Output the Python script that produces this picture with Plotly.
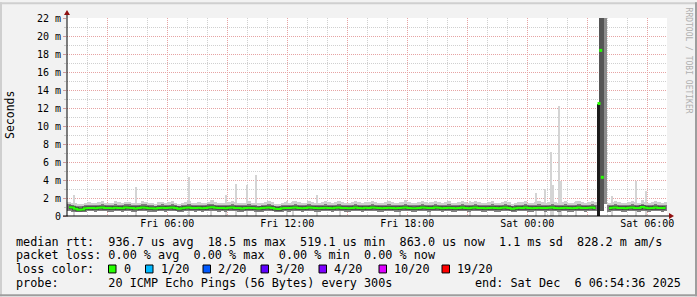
import plotly.graph_objects as go

# ---------------- data ----------------
STEP_H = 1 / 6          # 10-minute steps (hours)
T0 = 1.0                # first step starts Fri 01:00 (hours after Fri 00:00)

median_ms = [
    0.98, 0.95, 0.80, 0.70, 0.72, 0.85, 0.88, 0.90, 0.86, 0.92, 0.95, 0.90, 0.88, 0.85, 0.93, 0.90, 0.86, 0.95,
    0.92, 0.88, 0.84, 0.90, 0.95, 0.92, 0.87, 0.85, 0.82, 0.90, 0.93, 0.88, 0.92, 0.95, 0.90, 0.80, 0.85, 0.92,
    0.95, 0.90, 0.88, 0.92, 0.85, 0.90, 0.94, 0.98, 0.92, 0.88, 0.90, 0.86, 0.92, 0.95, 0.90, 0.88, 0.84, 0.90,
    0.93, 0.90, 0.86, 0.82, 0.88, 0.92, 0.95, 0.90, 0.80, 0.78, 0.85, 0.90, 0.88, 0.92, 0.95, 0.90, 0.86, 0.90,
    0.95, 0.92, 0.88, 0.85, 0.90, 0.93, 0.90, 0.87, 0.92, 0.95, 0.90, 0.88, 0.85, 0.90, 0.94, 0.90, 0.86, 0.92,
    0.90, 0.95, 0.92, 0.88, 0.85, 0.90, 0.93, 0.90, 0.86, 0.88, 0.92, 0.95, 0.90, 0.87, 0.85, 0.90, 0.94, 0.92,
    0.88, 0.90, 0.95, 0.92, 0.86, 0.90, 0.93, 0.88, 0.85, 0.90, 0.94, 0.90, 0.87, 0.92, 0.95, 0.90, 0.88, 0.85,
    0.90, 0.93, 0.88, 0.86, 0.92, 0.95, 0.90, 0.80, 0.85, 0.92, 0.90, 0.94, 0.88, 0.85, 0.90, 0.93, 0.90, 0.88,
    0.92, 0.95, 0.90, 0.86, 0.90, 0.93, 0.88, 0.85, 0.90, 0.94, 0.90, 0.88, 0.92, 0.95, 0.90, None, None, None,
    0.85, 0.92, 0.95, 0.90, 0.88, 0.86, 0.92, 0.95, 0.90, 0.88, 1.00, 0.92, 0.85, 0.90, 0.94, 0.90, 0.88, 0.92,
]
smoke_lo_ms = [
    0.55, 0.50, 0.45, 0.40, 0.42, 0.50, 0.55, 0.52, 0.48, 0.55, 0.58, 0.52, 0.50, 0.48, 0.55, 0.52, 0.50, 0.56,
    0.54, 0.50, 0.48, 0.52, 0.56, 0.54, 0.50, 0.48, 0.45, 0.52, 0.55, 0.50, 0.54, 0.56, 0.52, 0.45, 0.48, 0.54,
    0.56, 0.52, 0.50, 0.54, 0.48, 0.52, 0.55, 0.58, 0.54, 0.50, 0.52, 0.48, 0.54, 0.56, 0.52, 0.50, 0.46, 0.52,
    0.55, 0.52, 0.48, 0.45, 0.50, 0.54, 0.56, 0.52, 0.45, 0.42, 0.48, 0.52, 0.50, 0.54, 0.56, 0.52, 0.48, 0.52,
    0.56, 0.54, 0.50, 0.48, 0.52, 0.55, 0.52, 0.50, 0.54, 0.56, 0.52, 0.50, 0.48, 0.52, 0.55, 0.52, 0.48, 0.54,
    0.52, 0.56, 0.54, 0.50, 0.48, 0.52, 0.55, 0.52, 0.48, 0.50, 0.54, 0.56, 0.52, 0.50, 0.48, 0.52, 0.55, 0.54,
    0.50, 0.52, 0.56, 0.54, 0.48, 0.52, 0.55, 0.50, 0.48, 0.52, 0.55, 0.52, 0.50, 0.54, 0.56, 0.52, 0.50, 0.48,
    0.52, 0.55, 0.50, 0.48, 0.54, 0.56, 0.52, 0.45, 0.48, 0.54, 0.52, 0.55, 0.50, 0.48, 0.52, 0.55, 0.52, 0.50,
    0.54, 0.56, 0.52, 0.48, 0.52, 0.55, 0.50, 0.48, 0.52, 0.55, 0.52, 0.50, 0.54, 0.56, 0.52, None, None, None,
    0.48, 0.54, 0.56, 0.52, 0.50, 0.48, 0.54, 0.56, 0.52, 0.50, 0.58, 0.54, 0.48, 0.52, 0.55, 0.52, 0.50, 0.54,
]
smoke_hi_ms = [
    1.30, 1.25, 1.15, 1.10, 1.12, 1.20, 1.25, 1.22, 1.18, 1.25, 1.30, 1.22, 1.20, 1.18, 1.28, 1.25, 1.20, 1.30,
    1.28, 1.22, 1.18, 1.25, 1.30, 1.28, 1.20, 1.18, 1.15, 1.25, 1.28, 1.22, 1.26, 1.30, 1.25, 1.12, 1.18, 1.26,
    1.30, 1.25, 1.22, 1.26, 1.18, 1.24, 1.28, 1.32, 1.26, 1.22, 1.24, 1.20, 1.26, 1.30, 1.24, 1.22, 1.18, 1.24,
    1.28, 1.24, 1.20, 1.15, 1.22, 1.26, 1.30, 1.24, 1.12, 1.10, 1.18, 1.24, 1.22, 1.26, 1.30, 1.24, 1.20, 1.24,
    1.30, 1.26, 1.22, 1.18, 1.24, 1.28, 1.24, 1.20, 1.26, 1.30, 1.24, 1.22, 1.18, 1.24, 1.28, 1.24, 1.20, 1.26,
    1.24, 1.30, 1.26, 1.22, 1.18, 1.24, 1.28, 1.24, 1.20, 1.22, 1.26, 1.30, 1.24, 1.20, 1.18, 1.24, 1.28, 1.26,
    1.22, 1.24, 1.30, 1.26, 1.20, 1.24, 1.28, 1.22, 1.18, 1.24, 1.28, 1.24, 1.20, 1.26, 1.30, 1.24, 1.22, 1.18,
    1.24, 1.28, 1.22, 1.20, 1.26, 1.30, 1.24, 1.12, 1.18, 1.26, 1.24, 1.28, 1.22, 1.18, 1.24, 1.28, 1.24, 1.22,
    1.26, 1.30, 1.24, 1.20, 1.24, 1.28, 1.22, 1.18, 1.24, 1.28, 1.24, 1.22, 1.26, 1.30, 1.24, None, None, None,
    1.18, 1.26, 1.30, 1.24, 1.22, 1.20, 1.26, 1.30, 1.24, 1.22, 1.35, 1.26, 1.18, 1.24, 1.28, 1.24, 1.22, 1.26,
]
smoke_top_ms = [
    1.60, 1.50, 1.40, 1.30, 1.35, 1.50, 1.55, 1.45, 1.40, 1.60, 1.70, 1.50, 1.45, 1.40, 1.65, 1.55, 1.45, 1.60,
    1.55, 1.45, 1.40, 1.50, 1.65, 1.60, 1.45, 1.40, 1.35, 1.55, 1.60, 1.45, 1.55, 1.70, 1.50, 1.35, 1.40, 1.55,
    1.65, 1.50, 1.45, 1.55, 1.40, 1.50, 1.60, 1.75, 1.55, 1.45, 1.50, 1.45, 1.60, 1.70, 1.55, 1.50, 1.40, 1.50,
    1.65, 1.50, 1.45, 1.40, 1.50, 1.60, 1.70, 1.55, 1.35, 1.30, 1.45, 1.55, 1.50, 1.60, 1.70, 1.55, 1.45, 1.50,
    1.70, 1.60, 1.50, 1.45, 1.55, 1.65, 1.55, 1.45, 1.60, 1.70, 1.55, 1.50, 1.45, 1.55, 1.65, 1.55, 1.45, 1.60,
    1.55, 1.70, 1.60, 1.50, 1.45, 1.55, 1.65, 1.55, 1.45, 1.50, 1.60, 1.75, 1.55, 1.50, 1.45, 1.55, 1.65, 1.60,
    1.50, 1.55, 1.70, 1.60, 1.45, 1.55, 1.65, 1.50, 1.45, 1.55, 1.65, 1.55, 1.50, 1.60, 1.70, 1.55, 1.50, 1.45,
    1.55, 1.65, 1.50, 1.45, 1.60, 1.70, 1.55, 1.35, 1.45, 1.60, 1.55, 1.65, 1.50, 1.45, 1.55, 1.65, 1.55, 1.50,
    1.60, 1.70, 1.55, 1.50, 1.55, 1.65, 1.50, 1.45, 1.55, 1.65, 1.55, 1.50, 1.60, 1.70, 1.55, None, None, None,
    1.45, 1.60, 1.70, 1.55, 1.50, 1.45, 1.60, 1.70, 1.55, 1.50, 1.80, 1.60, 1.45, 1.55, 1.65, 1.55, 1.50, 1.60,
]

# isolated slow pings (thin light smoke spikes)
spike_t_h = [1.33, 4.43, 7.085, 8.21, 8.935, 9.425, 9.99, 10.42, 12.0, 12.285, 13.5, 14.635,
             17.635, 19.135, 21.135, 24.42, 24.885, 25.175, 25.285, 25.585, 25.685, 26.435,
             28.22, 29.425, 29.935]
spike_ms = [2.3, 3.2, 4.3, 1.8, 2.3, 3.6, 3.4, 4.6, 1.7, 1.7, 2.3, 1.7,
            1.6, 1.6, 1.7, 2.6, 3.0, 7.1, 3.5, 12.2, 3.9, 1.7,
            2.2, 3.9, 2.8]

# the large latency burst on Saturday morning
burst_t_h = [27.88, 27.70, 27.565]
burst_lo_ms = [1.3, 0.6, 0.0]
burst_hi_ms = [23.0, 23.0, 12.5]
burst_median_t_h = [27.585, 27.67, 27.75]
burst_median_ms = [12.5, 18.4, 4.3]

x_tick_hours = [3, 6, 9, 12, 15, 18, 21, 24, 27, 30]
x_tick_labels = ["", "Fri 06:00", "", "Fri 12:00", "", "Fri 18:00", "", "Sat 00:00", "", "Sat 06:00"]
y_tick_vals = [0, 2, 4, 6, 8, 10, 12, 14, 16, 18, 20, 22]
y_tick_labels = ["0", "2 m", "4 m", "6 m", "8 m", "10 m", "12 m", "14 m", "16 m", "18 m", "20 m", "22 m"]

loss_labels = ["0", "1/20", "2/20", "3/20", "4/20", "10/20", "19/20"]
loss_colors = ["#26ff00", "#00b8ff", "#0059ff", "#5e00ff", "#7e00ff", "#dd00ff", "#ff0000"]

legend_rows = [
    "median rtt:  936.7 us avg  18.5 ms max  519.1 us min  863.0 us now  1.1 ms sd  828.2 m am/s",
    "packet loss: 0.00 % avg  0.00 % max  0.00 % min  0.00 % now",
    "loss color:",
    "probe:       20 ICMP Echo Pings (56 Bytes) every 300s",
]
end_text = "end: Sat Dec  6 06:54:36 2025"

# ---------------- layout constants ----------------
W, H = 697, 297
L, R, T, B = 67, 30, 16, 81
PW, PH = W - L - R, H - T - B
MONO = "DejaVu Sans Mono"


def px(xp):
    return (xp - L) / PW


def py(yp):
    return (H - B - yp) / PH


def nb(s):
    return s.replace(" ", "\u00a0")


t_mid = [T0 + (i + 0.5) * STEP_H for i in range(len(median_ms))]

fig = go.Figure()

# thin spikes
fig.add_trace(go.Bar(x=spike_t_h, y=spike_ms, base=0, width=0.06,
                     marker=dict(color="#d4d4d4", line=dict(width=0)), hoverinfo="skip"))

# outer smoke (light)
fig.add_trace(go.Bar(
    x=t_mid,
    y=[(t - l) if (t is not None and l is not None) else None for t, l in zip(smoke_top_ms, smoke_lo_ms)],
    base=smoke_lo_ms, width=STEP_H,
    marker=dict(color="#cfcfcf", line=dict(width=0)), hoverinfo="skip"))
# inner smoke (dark)
fig.add_trace(go.Bar(
    x=t_mid,
    y=[(h - l) if (h is not None and l is not None) else None for h, l in zip(smoke_hi_ms, smoke_lo_ms)],
    base=smoke_lo_ms, width=STEP_H,
    marker=dict(color="#808080", line=dict(width=0)), hoverinfo="skip"))

# burst
fig.add_trace(go.Bar(
    x=burst_t_h,
    y=[h - l for h, l in zip(burst_hi_ms, burst_lo_ms)],
    base=burst_lo_ms, width=[0.18, 0.22, 0.14],
    marker=dict(color=["#8c8c8c", "#555555", "#1c1c1c"], line=dict(width=0)), hoverinfo="skip"))

# median line (dark core + green)
fig.add_trace(go.Scatter(x=t_mid, y=median_ms, mode="lines", line=dict(shape="hvh", color="#404040", width=3.5),
                         connectgaps=False, hoverinfo="skip"))
fig.add_trace(go.Scatter(x=t_mid, y=median_ms, mode="lines", line=dict(shape="hvh", color="#26ff00", width=2),
                         connectgaps=False, hoverinfo="skip"))
fig.add_trace(go.Scatter(x=burst_median_t_h, y=burst_median_ms, mode="markers",
                         marker=dict(symbol="square", size=3, color="#26ff00", line=dict(width=0)),
                         hoverinfo="skip"))

MAJ = "#e6a3a3"
MIN = "#d0d0d0"
fig.update_xaxes(range=[0.985, 30.985], tickmode="array", tickvals=x_tick_hours, ticktext=x_tick_labels,
                 showgrid=True, gridcolor=MAJ, griddash="1px,1px", gridwidth=1,
                 minor=dict(dtick=1, tick0=0, showgrid=True, gridcolor=MIN, griddash="1px,1px"),
                 zeroline=False, showline=False, ticks="",
                 tickfont=dict(family=MONO, size=10, color="#000000"), fixedrange=True)
fig.update_yaxes(range=[0, 22.0], tickmode="array", tickvals=y_tick_vals, ticktext=y_tick_labels,
                 showgrid=True, gridcolor=MAJ, griddash="1px,1px", gridwidth=1,
                 minor=dict(dtick=1, tick0=0, showgrid=True, gridcolor=MIN, griddash="1px,1px",
                            ticks="outside", ticklen=2, tickcolor="#c8c8c8"),
                 zeroline=False, showline=False, ticks="outside", ticklen=3, tickcolor="#d09a9a",
                 tickfont=dict(family=MONO, size=10, color="#000000"), fixedrange=True)

shapes = []
# frame
shapes.append(dict(type="rect", xref="paper", yref="paper", x0=px(0), x1=px(W), y0=py(0), y1=py(2),
                   fillcolor="#cfcfcf", line=dict(width=0), layer="above"))
shapes.append(dict(type="rect", xref="paper", yref="paper", x0=px(0), x1=px(2), y0=py(0), y1=py(H),
                   fillcolor="#cfcfcf", line=dict(width=0), layer="above"))
shapes.append(dict(type="rect", xref="paper", yref="paper", x0=px(0), x1=px(W), y0=py(H - 2), y1=py(H),
                   fillcolor="#9e9e9e", line=dict(width=0), layer="above"))
shapes.append(dict(type="rect", xref="paper", yref="paper", x0=px(W - 2), x1=px(W), y0=py(0), y1=py(H),
                   fillcolor="#9e9e9e", line=dict(width=0), layer="above"))
# axes lines extending to arrows
shapes.append(dict(type="line", xref="paper", yref="paper", x0=0, x1=0, y0=py(H - B + 0.5), y1=py(12),
                   line=dict(color="#000000", width=1), layer="above"))
shapes.append(dict(type="line", xref="paper", yref="paper", x0=px(63), x1=px(670), y0=0, y1=0,
                   line=dict(color="#000000", width=1), layer="above"))
# arrows
shapes.append(dict(type="path", xref="paper", yref="paper", xsizemode="pixel", ysizemode="pixel",
                   xanchor=0, yanchor=1, path="M -3,3 L 3,3 L 0,8 Z",
                   fillcolor="#901010", line=dict(width=0), layer="above"))
shapes.append(dict(type="path", xref="paper", yref="paper", xsizemode="pixel", ysizemode="pixel",
                   xanchor=px(669), yanchor=0, path="M 0,-3 L 0,3 L 5,0 Z",
                   fillcolor="#901010", line=dict(width=0), layer="above"))

annotations = []
annotations.append(dict(text="Seconds", xref="paper", yref="paper", x=px(10), y=py(114), showarrow=False,
                        textangle=-90, font=dict(family=MONO, size=11.5, color="#000000"),
                        xanchor="center", yanchor="middle"))
annotations.append(dict(text=nb("RRDTOOL / TOBI OETIKER"), xref="paper", yref="paper", x=px(688), y=py(59),
                        showarrow=False, textangle=90, font=dict(family=MONO, size=8, color="#b0b0b0"),
                        xanchor="center", yanchor="middle"))
row_y = [242, 255.5, 269.5, 283.5]
for txt, yy in zip(legend_rows, row_y):
    annotations.append(dict(text=nb(txt), xref="paper", yref="paper", x=px(15), y=py(yy), showarrow=False,
                            xanchor="left", yanchor="middle", borderpad=0,
                            font=dict(family=MONO, size=11.8, color="#000000")))
annotations.append(dict(text=nb(end_text), xref="paper", yref="paper", x=px(682), y=py(row_y[3]),
                        showarrow=False, xanchor="right", yanchor="middle", borderpad=0,
                        font=dict(family=MONO, size=11.8, color="#000000")))

box_left = [108.5, 145.5, 203, 261, 319, 379, 442]
for bx, lab, col in zip(box_left, loss_labels, loss_colors):
    shapes.append(dict(type="rect", xref="paper", yref="paper", x0=px(bx), x1=px(bx + 7.5),
                       y0=py(row_y[2] - 4), y1=py(row_y[2] + 4),
                       fillcolor=col, line=dict(color="#000000", width=1), layer="above"))
    annotations.append(dict(text=lab, xref="paper", yref="paper", x=px(bx + 14), y=py(row_y[2]),
                            showarrow=False, xanchor="left", yanchor="middle", borderpad=0,
                            font=dict(family=MONO, size=11.8, color="#000000")))

fig.update_layout(width=W, height=H, margin=dict(l=L, r=R, t=T, b=B, pad=0),
                  paper_bgcolor="#f2f2f2", plot_bgcolor="#ffffff",
                  barmode="overlay", bargap=0, showlegend=False,
                  shapes=shapes, annotations=annotations,
                  font=dict(family=MONO, size=10, color="#000000"))

fig.write_html("out.html")
